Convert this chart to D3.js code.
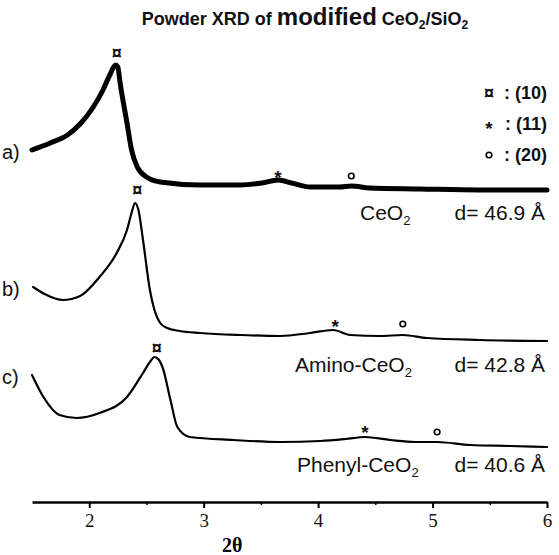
<!DOCTYPE html>
<html>
<head>
<meta charset="utf-8">
<script src="https://cdn.jsdelivr.net/npm/d3@7"></script>
<style>
  body { margin: 0; background: #fff; }
  svg { display: block; }
  .lbl { font-family: "Liberation Sans", Arial, sans-serif; fill: #111; }
  .tick text { font-family: "Liberation Serif", "Times New Roman", serif; font-size: 19px; fill: #111; }
</style>
</head>
<body>
<div id="chartId"></div>
<script>
/*
Data (2θ in degrees, intensity in arbitrary units, traces already offset)
*/
const twoThetaA = [1.50, 1.66, 1.81, 1.92, 2.03, 2.12, 2.18, 2.23, 2.25, 2.27, 2.33, 2.37, 2.42, 2.50, 2.62, 2.97, 3.32, 3.51, 3.65, 3.77, 3.93, 4.19, 4.29, 4.45, 4.89, 5.41, 6.00];
const intensityA = [700, 714, 730, 752, 784, 820, 850, 870, 866, 834, 754, 700, 666, 646, 636, 630, 630, 634, 640, 634, 626, 626, 628, 624, 622, 620, 620];

const twoThetaB = [1.51, 1.61, 1.77, 1.92, 2.09, 2.24, 2.33, 2.37, 2.40, 2.43, 2.47, 2.53, 2.57, 2.62, 2.68, 2.79, 2.97, 3.32, 3.67, 3.93, 4.13, 4.28, 4.54, 4.74, 4.95, 5.41, 6.00];
const intensityB = [426, 412, 400, 408, 446, 494, 540, 574, 594, 580, 520, 420, 380, 354, 344, 338, 334, 330, 328, 334, 340, 330, 328, 330, 324, 320, 318];

const twoThetaC = [1.50, 1.60, 1.74, 1.89, 2.09, 2.33, 2.47, 2.53, 2.57, 2.61, 2.64, 2.71, 2.77, 2.88, 3.26, 3.67, 4.02, 4.24, 4.41, 4.63, 4.85, 5.04, 5.33, 5.68, 6.00];
const intensityC = [250, 206, 170, 164, 174, 206, 254, 276, 286, 280, 266, 200, 146, 126, 120, 116, 118, 122, 126, 120, 116, 116, 110, 108, 106];

const seriesKeys = ["a)", "b)", "c)"];
const seriesNames = ["CeO", "Amino-CeO", "Phenyl-CeO"];
const dSpacings = ["d= 46.9 Å", "d= 42.8 Å", "d= 40.6 Å"];

// reflection markers: kind, 2θ, intensity
const markerKinds = ["10", "11", "20", "10", "11", "20", "10", "11", "20"];
const markerTheta = [2.24, 3.65, 4.29, 2.42, 4.15, 4.74, 2.59, 4.41, 5.04];
const markerIntensity = [894, 654, 648, 620, 356, 352, 304, 144, 136];

const legendKinds = ["10", "11", "20"];
const legendLabels = [": (10)", ": (11)", ": (20)"];

const majorTicks = [2, 3, 4, 5, 6];
const minorTicks = [2.5, 3.5, 4.5, 5.5];

/*
Layout
*/
const width = 559, height = 555;
const x0 = 32, x1 = 547, yBottom = 500, yTop = 50;

const x = d3.scaleLinear().domain([1.5, 6]).range([x0, x1]);
const y = d3.scaleLinear().domain([0, 900]).range([yBottom, yTop]);

const svg = d3.select("#chartId").append("svg")
    .attr("width", width)
    .attr("height", height);

/*
Title
*/
const title = svg.append("text")
    .attr("class", "lbl")
    .attr("x", 305)
    .attr("y", 25)
    .attr("text-anchor", "middle")
    .attr("font-weight", "bold")
    .attr("font-size", 18);
title.append("tspan").text("Powder XRD of ");
title.append("tspan").attr("font-size", 24).text("modified");
title.append("tspan").text(" CeO");
title.append("tspan").attr("font-size", 12).attr("dy", 4).text("2");
title.append("tspan").attr("dy", -4).text("/SiO");
title.append("tspan").attr("font-size", 12).attr("dy", 4).text("2");

/*
Traces
*/
const traces = [
    { t: twoThetaA, v: intensityA, w: 5 },
    { t: twoThetaB, v: intensityB, w: 2.2 },
    { t: twoThetaC, v: intensityC, w: 2.2 }
];

const line = d3.line()
    .x(d => x(d[0]))
    .y(d => y(d[1]))
    .curve(d3.curveMonotoneX);

svg.append("g").selectAll("path")
    .data(traces)
    .enter()
    .append("path")
    .attr("d", d => line(d.t.map((t, i) => [t, d.v[i]])))
    .attr("fill", "none")
    .attr("stroke", "#000")
    .attr("stroke-width", d => d.w)
    .attr("stroke-linejoin", "round")
    .attr("stroke-linecap", "round");

// series keys a) b) c) at the start of each trace
svg.append("g").selectAll("text")
    .data(seriesKeys)
    .enter()
    .append("text")
    .attr("class", "lbl")
    .attr("x", 2)
    .attr("y", (d, i) => y(traces[i].v[0]) + 2)
    .attr("dominant-baseline", "central")
    .attr("font-size", 20)
    .text(d => d);

/*
Series names and d-spacings
*/
const nameY = [220, 372, 472];
const nameX = [360, 295, 297];
seriesNames.forEach((n, i) => {
    const t = svg.append("text")
        .attr("class", "lbl")
        .attr("x", nameX[i])
        .attr("y", nameY[i])
        .attr("font-size", 21);
    t.append("tspan").text(n);
    t.append("tspan").attr("font-size", 13).attr("dy", 5).text("2");
    svg.append("text")
        .attr("class", "lbl")
        .attr("x", 545)
        .attr("y", nameY[i])
        .attr("text-anchor", "end")
        .attr("font-size", 21)
        .text(dSpacings[i]);
});

/*
Markers
*/
function draw_marker(g, kind, cx, cy) {
    if (kind == "20") {
        g.append("circle")
            .attr("cx", cx).attr("cy", cy).attr("r", 2.8)
            .attr("fill", "none").attr("stroke", "#000").attr("stroke-width", 1.6);
    } else {
        g.append("text")
            .attr("class", "lbl")
            .attr("x", cx).attr("y", cy)
            .attr("text-anchor", "middle")
            .attr("dominant-baseline", "central")
            .attr("font-weight", "bold")
            .attr("font-size", kind == "10" ? 18 : 19)
            .attr("dy", kind == "11" ? 4 : 0)
            .text(kind == "10" ? "¤" : "*");
    }
}

const g_marks = svg.append("g");
markerKinds.forEach((k, i) => {
    draw_marker(g_marks, k, x(markerTheta[i]), y(markerIntensity[i]));
});

/*
Legend
*/
const g_legend = svg.append("g");
legendKinds.forEach((k, i) => {
    const ly = 93 + i * 31;
    draw_marker(g_legend, k, 489, ly);
    g_legend.append("text")
        .attr("class", "lbl")
        .attr("x", 547)
        .attr("y", ly)
        .attr("text-anchor", "end")
        .attr("dominant-baseline", "central")
        .attr("font-weight", "bold")
        .attr("font-size", 18)
        .text(legendLabels[i]);
});

/*
Axis
*/
const g_axis = svg.append("g").attr("transform", `translate(0,${yBottom + 2})`);
g_axis.call(d3.axisBottom(x).tickValues(majorTicks).tickSize(6).tickSizeOuter(0).tickPadding(6).tickFormat(d3.format("d")));
g_axis.select(".domain").attr("stroke-width", 2.5);
g_axis.selectAll(".tick line").attr("stroke-width", 2);

const g_minor = svg.append("g").attr("transform", `translate(0,${yBottom + 2})`);
g_minor.call(d3.axisBottom(x).tickValues(minorTicks).tickSize(3).tickFormat(""));
g_minor.select(".domain").remove();
g_minor.selectAll(".tick line").attr("stroke-width", 1.5);

svg.append("text")
    .attr("x", x(3.25))
    .attr("y", 552)
    .attr("text-anchor", "middle")
    .attr("font-family", "'Liberation Serif', 'Times New Roman', serif")
    .attr("font-weight", "bold")
    .attr("font-size", 20)
    .text("2θ");
</script>
</body>
</html>
